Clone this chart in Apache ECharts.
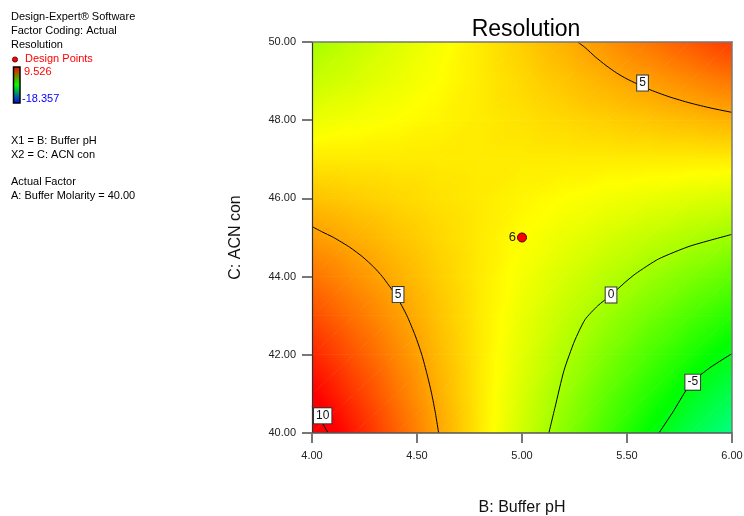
<!DOCTYPE html>
<html><head><meta charset="utf-8">
<script src="https://cdn.jsdelivr.net/npm/echarts@6/dist/echarts.min.js"></script>
<style>html,body{margin:0;padding:0;background:#fff;overflow:hidden}#c{width:744px;height:516px}</style>
</head><body><div id="c"></div>
<script>
// ---- data ----
const phNodes = [4.0, 4.2, 4.4, 4.6, 4.8, 5.0, 5.2, 5.4, 5.6, 5.8, 6.0];
const acnNodes = [40, 41, 42, 43, 44, 45, 46, 47, 48, 49, 50];
// Resolution estimated at each (ACN row, pH column) node
const resolutionGrid = [
  [10.73, 8.83, 6.93, 5.03, 3.13, 1.23, -0.67, -2.57, -4.47, -6.37, -8.00],
  [9.64, 8.01, 6.38, 4.75, 3.12, 1.49, -0.14, -1.76, -3.39, -5.02, -6.55],
  [8.55, 7.19, 5.83, 4.48, 3.12, 1.76, 0.40, -0.96, -2.32, -3.68, -5.03],
  [7.46, 6.37, 5.29, 4.20, 3.11, 2.02, 0.93, -0.15, -1.24, -2.33, -3.42],
  [6.37, 5.55, 4.74, 3.92, 3.10, 2.29, 1.47, 0.65, -0.16, -0.98, -1.80],
  [5.28, 4.73, 4.19, 3.64, 3.10, 2.55, 2.00, 1.46, 0.91, 0.37, -0.18],
  [4.19, 3.92, 3.64, 3.36, 3.09, 2.81, 2.54, 2.26, 1.99, 1.71, 1.44],
  [3.10, 3.10, 3.09, 3.09, 3.08, 3.08, 3.07, 3.07, 3.07, 3.06, 3.06],
  [2.01, 2.28, 2.54, 2.81, 3.08, 3.34, 3.61, 3.88, 4.14, 4.41, 4.67],
  [1.00, 1.50, 2.00, 2.53, 3.07, 3.61, 4.14, 4.68, 5.22, 5.76, 6.29],
  [0.10, 0.85, 1.60, 2.30, 3.08, 3.87, 4.68, 5.49, 6.29, 7.10, 7.91]
];
const colorScaleMin = -18.357;
const colorScaleMax = 9.526;

const contour10 = [[4.077, 40.0], [4.053, 40.22], [4.021, 40.5], [4.0, 40.67]];
const contour5Lower = [[4.603, 40.0], [4.588, 40.5], [4.570, 41.0], [4.548, 41.5], [4.523, 42.0], [4.491, 42.5], [4.452, 43.0], [4.402, 43.5], [4.335, 44.0], [4.293, 44.25], [4.242, 44.5], [4.180, 44.75], [4.103, 45.0], [4.046, 45.15], [4.0, 45.28]];
const contour5Upper = [[5.265, 50.0], [5.30, 49.86], [5.35, 49.615], [5.40, 49.40], [5.45, 49.21], [5.50, 49.054], [5.60, 48.80], [5.70, 48.60], [5.80, 48.44], [5.90, 48.31], [6.0, 48.20]];
const contour0 = [[5.128, 40.0], [5.157, 40.65], [5.20, 41.6], [5.25, 42.35], [5.30, 42.9], [5.36, 43.25], [5.424, 43.53], [5.49, 43.85], [5.54, 44.07], [5.65, 44.45], [5.80, 44.78], [6.0, 45.08]];
const contourMinus5 = [[5.652, 40.0], [5.719, 40.54], [5.786, 41.13], [5.833, 41.41], [5.895, 41.67], [5.952, 41.87], [6.0, 42.03]];
const contourLabels = [[4.41, 43.54, '5'], [5.574, 48.95, '5'], [5.424, 43.53, '0'], [5.813, 41.30, '-5'], [4.051, 40.44, '10']];

const designPoints = [[5.0, 45.0]];
const designPointCounts = ['6'];

const titleText = 'Resolution';
const xAxisName = 'B: Buffer pH';
const yAxisName = 'C: ACN con';
const infoLines = ['Design-Expert\u00ae Software', 'Factor Coding: Actual', 'Resolution'];
const factorLines = ['X1 = B: Buffer pH', 'X2 = C: ACN con'];
const actualLines = ['Actual Factor', 'A: Buffer Molarity = 40.00'];

// ---- colour ramp ----
const FONT = '"Liberation Sans", Arial, sans-serif';
const ramp = [[0, 0, 255], [0, 255, 255], [0, 255, 0], [255, 255, 0], [255, 0, 0]];
const knots = [0, 1, 2, 3, 4].map(k => colorScaleMin + k * (colorScaleMax - colorScaleMin) / 4);
function colorOf(v) {
  let t = (v - colorScaleMin) / (colorScaleMax - colorScaleMin);
  t = Math.max(0, Math.min(1, t));
  const s = t * 4;
  const k = Math.min(3, Math.floor(s));
  const f = s - k;
  const a = ramp[k], b = ramp[k + 1];
  return 'rgb(' + Math.round(a[0] + (b[0] - a[0]) * f) + ',' + Math.round(a[1] + (b[1] - a[1]) * f) + ',' + Math.round(a[2] + (b[2] - a[2]) * f) + ')';
}
function makeFill(pa, pb, pc, va, vb, vc) {
  const e1x = pb[0] - pa[0], e1y = pb[1] - pa[1], e2x = pc[0] - pa[0], e2y = pc[1] - pa[1];
  const d1 = vb - va, d2 = vc - va;
  const det = e1x * e2y - e1y * e2x;
  const lo = Math.min(va, vb, vc), hi = Math.max(va, vb, vc);
  if (Math.abs(det) < 1e-9 || hi - lo < 1e-9) return colorOf(va);
  const gx = (d1 * e2y - d2 * e1y) / det;
  const gy = (e1x * d2 - e2x * d1) / det;
  const g2 = gx * gx + gy * gy;
  if (g2 < 1e-12) return colorOf(va);
  const vals = [lo, hi];
  knots.forEach(k => { if (k > lo && k < hi) vals.push(k); });
  vals.sort((a, b) => a - b);
  return {
    type: 'linear', global: true,
    x: pa[0] + (lo - va) * gx / g2, y: pa[1] + (lo - va) * gy / g2,
    x2: pa[0] + (hi - va) * gx / g2, y2: pa[1] + (hi - va) * gy / g2,
    colorStops: vals.map(v => ({ offset: (v - lo) / (hi - lo), color: colorOf(v) }))
  };
}
function tri(pa, pb, pc, va, vb, vc) {
  return {
    type: 'polygon', shape: { points: [pa, pb, pc] },
    style: { fill: makeFill(pa, pb, pc, va, vb, vc), stroke: makeFill(pa, pb, pc, va, vb, vc), lineWidth: 0.7 }
  };
}
const cells = [];
for (let j = 0; j < acnNodes.length - 1; j++) {
  for (let i = 0; i < phNodes.length - 1; i++) cells.push([phNodes[i], acnNodes[j], i, j]);
}
function renderCell(params, api) {
  const i = api.value(2), j = api.value(3);
  const P = (a, b) => api.coord([phNodes[a], acnNodes[b]]);
  const V = (a, b) => resolutionGrid[b][a];
  const p00 = P(i, j), p10 = P(i + 1, j), p01 = P(i, j + 1), p11 = P(i + 1, j + 1);
  return {
    type: 'group',
    children: [
      tri(p00, p10, p11, V(i, j), V(i + 1, j), V(i + 1, j + 1)),
      tri(p00, p11, p01, V(i, j), V(i + 1, j + 1), V(i, j + 1))
    ]
  };
}
function contourSeries(pts) {
  return {
    type: 'line', data: pts, showSymbol: false, symbol: 'none', smooth: 0.2, silent: true, z: 3,
    lineStyle: { color: '#000', width: 1 }
  };
}

// ---- graphic (left info block) ----
const graphics = [];
infoLines.forEach((t, k) => graphics.push({ type: 'text', left: 11, top: 11 + 14 * k, style: { text: t, fill: '#000', font: '11px ' + FONT } }));
graphics.push({ type: 'circle', shape: { cx: 15, cy: 59.5, r: 2.6 }, style: { fill: '#ff0000', stroke: '#400', lineWidth: 0.8 } });
graphics.push({ type: 'text', left: 25, top: 53, style: { text: 'Design Points', fill: '#ff0000', font: '11px ' + FONT } });
graphics.push({ type: 'rect', shape: { x: 13.5, y: 67, width: 6.5, height: 36 }, style: {
  fill: new echarts.graphic.LinearGradient(0, 0, 0, 1, [{ offset: 0, color: '#ff0000' }, { offset: 0.5, color: '#00ff00' }, { offset: 1, color: '#0000ff' }]),
  stroke: '#000', lineWidth: 1.5 } });
graphics.push({ type: 'text', left: 24, top: 66, style: { text: colorScaleMax.toFixed(3), fill: '#ff0000', font: '11px ' + FONT } });
graphics.push({ type: 'text', left: 22, top: 93, style: { text: colorScaleMin.toFixed(3), fill: '#0000ff', font: '11px ' + FONT } });
factorLines.forEach((t, k) => graphics.push({ type: 'text', left: 11, top: 135 + 14 * k, style: { text: t, fill: '#000', font: '11px ' + FONT } }));
actualLines.forEach((t, k) => graphics.push({ type: 'text', left: 11, top: 176 + 14 * k, style: { text: t, fill: '#000', font: '11px ' + FONT } }));

const chart = echarts.init(document.getElementById('c'), null, { renderer: 'canvas', width: 744, height: 516 });
chart.setOption({
  animation: false,
  backgroundColor: '#fff',
  title: { text: titleText, left: 521, top: 13, textAlign: 'center', textStyle: { fontSize: 23, fontWeight: 'normal', color: '#000', fontFamily: FONT } },
  grid: { left: 312, top: 42, width: 420, height: 391, containLabel: false, outerBoundsMode: 'none' },
  graphic: graphics,
  xAxis: [{
    type: 'value', min: 4, max: 6, interval: 0.5, z: 10,
    axisLine: { show: true, onZero: false, lineStyle: { color: '#555', width: 1.5 } },
    axisTick: { show: true, length: 10, lineStyle: { color: '#777', width: 2 } },
    axisLabel: { formatter: v => v.toFixed(2), margin: 17, fontSize: 11, color: '#222', fontFamily: FONT },
    splitLine: { show: false },
    name: xAxisName, nameLocation: 'middle', nameGap: 67,
    nameTextStyle: { fontSize: 16, color: '#111', fontFamily: FONT }
  }, {
    type: 'value', min: 4, max: 6, position: 'top', z: 10,
    axisLine: { show: true, onZero: false, lineStyle: { color: '#777', width: 1.5 } },
    axisTick: { show: false }, axisLabel: { show: false }, splitLine: { show: false }
  }],
  yAxis: [{
    type: 'value', min: 40, max: 50, interval: 2, z: 10,
    axisLine: { show: true, onZero: false, lineStyle: { color: '#333', width: 1.2 } },
    axisTick: { show: true, length: 10, lineStyle: { color: '#777', width: 2 } },
    axisLabel: { formatter: v => v.toFixed(2), margin: 16, fontSize: 11, color: '#222', fontFamily: FONT },
    splitLine: { show: false },
    name: yAxisName, nameLocation: 'middle', nameGap: 68,
    nameTextStyle: { fontSize: 16, color: '#111', fontFamily: FONT }
  }, {
    type: 'value', min: 40, max: 50, position: 'right', z: 10,
    axisLine: { show: true, onZero: false, lineStyle: { color: '#777', width: 1.5 } },
    axisTick: { show: false }, axisLabel: { show: false }, splitLine: { show: false }
  }],
  series: [
    { type: 'custom', coordinateSystem: 'cartesian2d', data: cells, encode: { x: 0, y: 1 }, renderItem: renderCell, silent: true, z: 1, clip: true },
    contourSeries(contour10),
    contourSeries(contour5Lower),
    contourSeries(contour5Upper),
    contourSeries(contour0),
    contourSeries(contourMinus5),
    {
      type: 'scatter', data: contourLabels, symbol: 'rect', symbolSize: 1, silent: true, z: 4,
      itemStyle: { color: '#ffffff', opacity: 1 },
      label: { show: true, position: 'inside', formatter: p => p.value[2], fontSize: 12, color: '#111', fontFamily: FONT, opacity: 1,
        backgroundColor: '#ffffff', borderColor: '#333', borderWidth: 1, padding: [2, 2, 1, 2], lineHeight: 12 }
    },
    {
      type: 'scatter', data: designPoints, symbol: 'circle', symbolSize: 9, silent: true, z: 5,
      itemStyle: { color: '#ff0000', borderColor: '#400', borderWidth: 1, opacity: 1 },
      label: { show: true, position: 'left', distance: 1, formatter: p => designPointCounts[p.dataIndex], fontSize: 13, color: '#222', fontFamily: FONT }
    }
  ]
});
</script></body></html>
